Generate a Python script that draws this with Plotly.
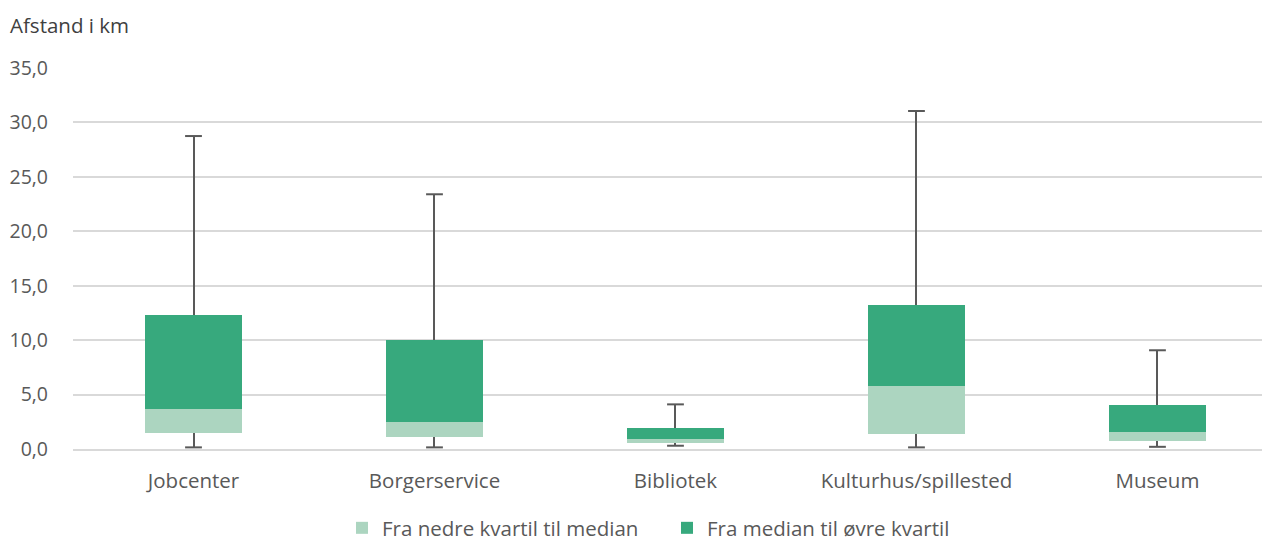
import plotly.graph_objects as go

categories = ["Jobcenter", "Borgerservice", "Bibliotek", "Kulturhus/spillested", "Museum"]
minimum = [0.15, 0.15, 0.3, 0.15, 0.2]
lower_quartile = [1.45, 1.07, 0.55, 1.38, 0.73]
median = [3.67, 2.45, 0.9, 5.82, 1.56]
upper_quartile = [12.35, 9.98, 1.96, 13.2, 4.04]
maximum = [28.75, 23.4, 4.1, 31.05, 9.07]

light = "#ACD5C0"
dark = "#37A97D"
whisker = "#595959"
font_family = "Open Sans"

low_seg = [m - q for m, q in zip(median, lower_quartile)]
high_seg = [q - m for q, m in zip(upper_quartile, median)]
up_whisk = [mx - q for mx, q in zip(maximum, upper_quartile)]
low_whisk = [q - mn for q, mn in zip(lower_quartile, minimum)]

W, H, OFF = 1262, 534, 8  # page has an 8px body margin

fig = go.Figure()
fig.add_trace(go.Bar(
    x=categories, y=lower_quartile,
    marker=dict(color="rgba(0,0,0,0)", line=dict(width=0)),
    showlegend=False, hoverinfo="skip",
    error_y=dict(type="data", symmetric=False, array=[0]*5, arrayminus=low_whisk,
                 color=whisker, thickness=2, width=0),
))
fig.add_trace(go.Bar(
    x=categories, y=low_seg, name="Fra nedre kvartil til median",
    marker=dict(color=light, line=dict(width=0)),
))
fig.add_trace(go.Bar(
    x=categories, y=high_seg, name="Fra median til øvre kvartil",
    marker=dict(color=dark, line=dict(width=0)),
    error_y=dict(type="data", symmetric=False, array=up_whisk, arrayminus=[0]*5,
                 color=whisker, thickness=2, width=0),
))
fig.add_trace(go.Scatter(
    x=categories + categories, y=maximum + minimum, mode="markers",
    marker=dict(symbol="line-ew", size=12, line=dict(color=whisker, width=2)),
    showlegend=False, hoverinfo="skip",
))

fig.update_layout(
    width=W, height=H,
    barmode="stack", bargap=0.6,
    separators=",.",
    plot_bgcolor="white", paper_bgcolor="white",
    margin=dict(l=73-OFF, r=0, t=68-OFF, b=542-449, pad=0),
    font=dict(family=font_family, size=20, color="#595959"),
    title=dict(text="Afstand i km", x=(10-OFF)/W, xanchor="left", xref="container",
               y=1-(26-OFF)/H, yanchor="middle", yref="container",
               font=dict(family=font_family, size=20.5, color="#404040")),
    legend=dict(orientation="h", x=(342-OFF)/W, xanchor="left", xref="container",
                y=1-(528-OFF)/H, yanchor="middle", yref="container",
                font=dict(size=20.5, color="#595959"), traceorder="normal",
                itemwidth=30, tracegroupgap=0, entrywidth=280),
    yaxis=dict(range=[0, 35], dtick=5, tickformat=".1f", showgrid=True,
               gridcolor="#D9D9D9", gridwidth=1.5, zeroline=False,
               showline=False, ticks="", ticklabelstandoff=24,
               tickfont=dict(size=19.5)),
    xaxis=dict(showline=True, linecolor="#D9D9D9", linewidth=2, ticks="",
               showgrid=False, ticklabelstandoff=12, tickfont=dict(size=20.5),
               range=[-0.5, 4.467]),
)

fig.write_html("out.html")
